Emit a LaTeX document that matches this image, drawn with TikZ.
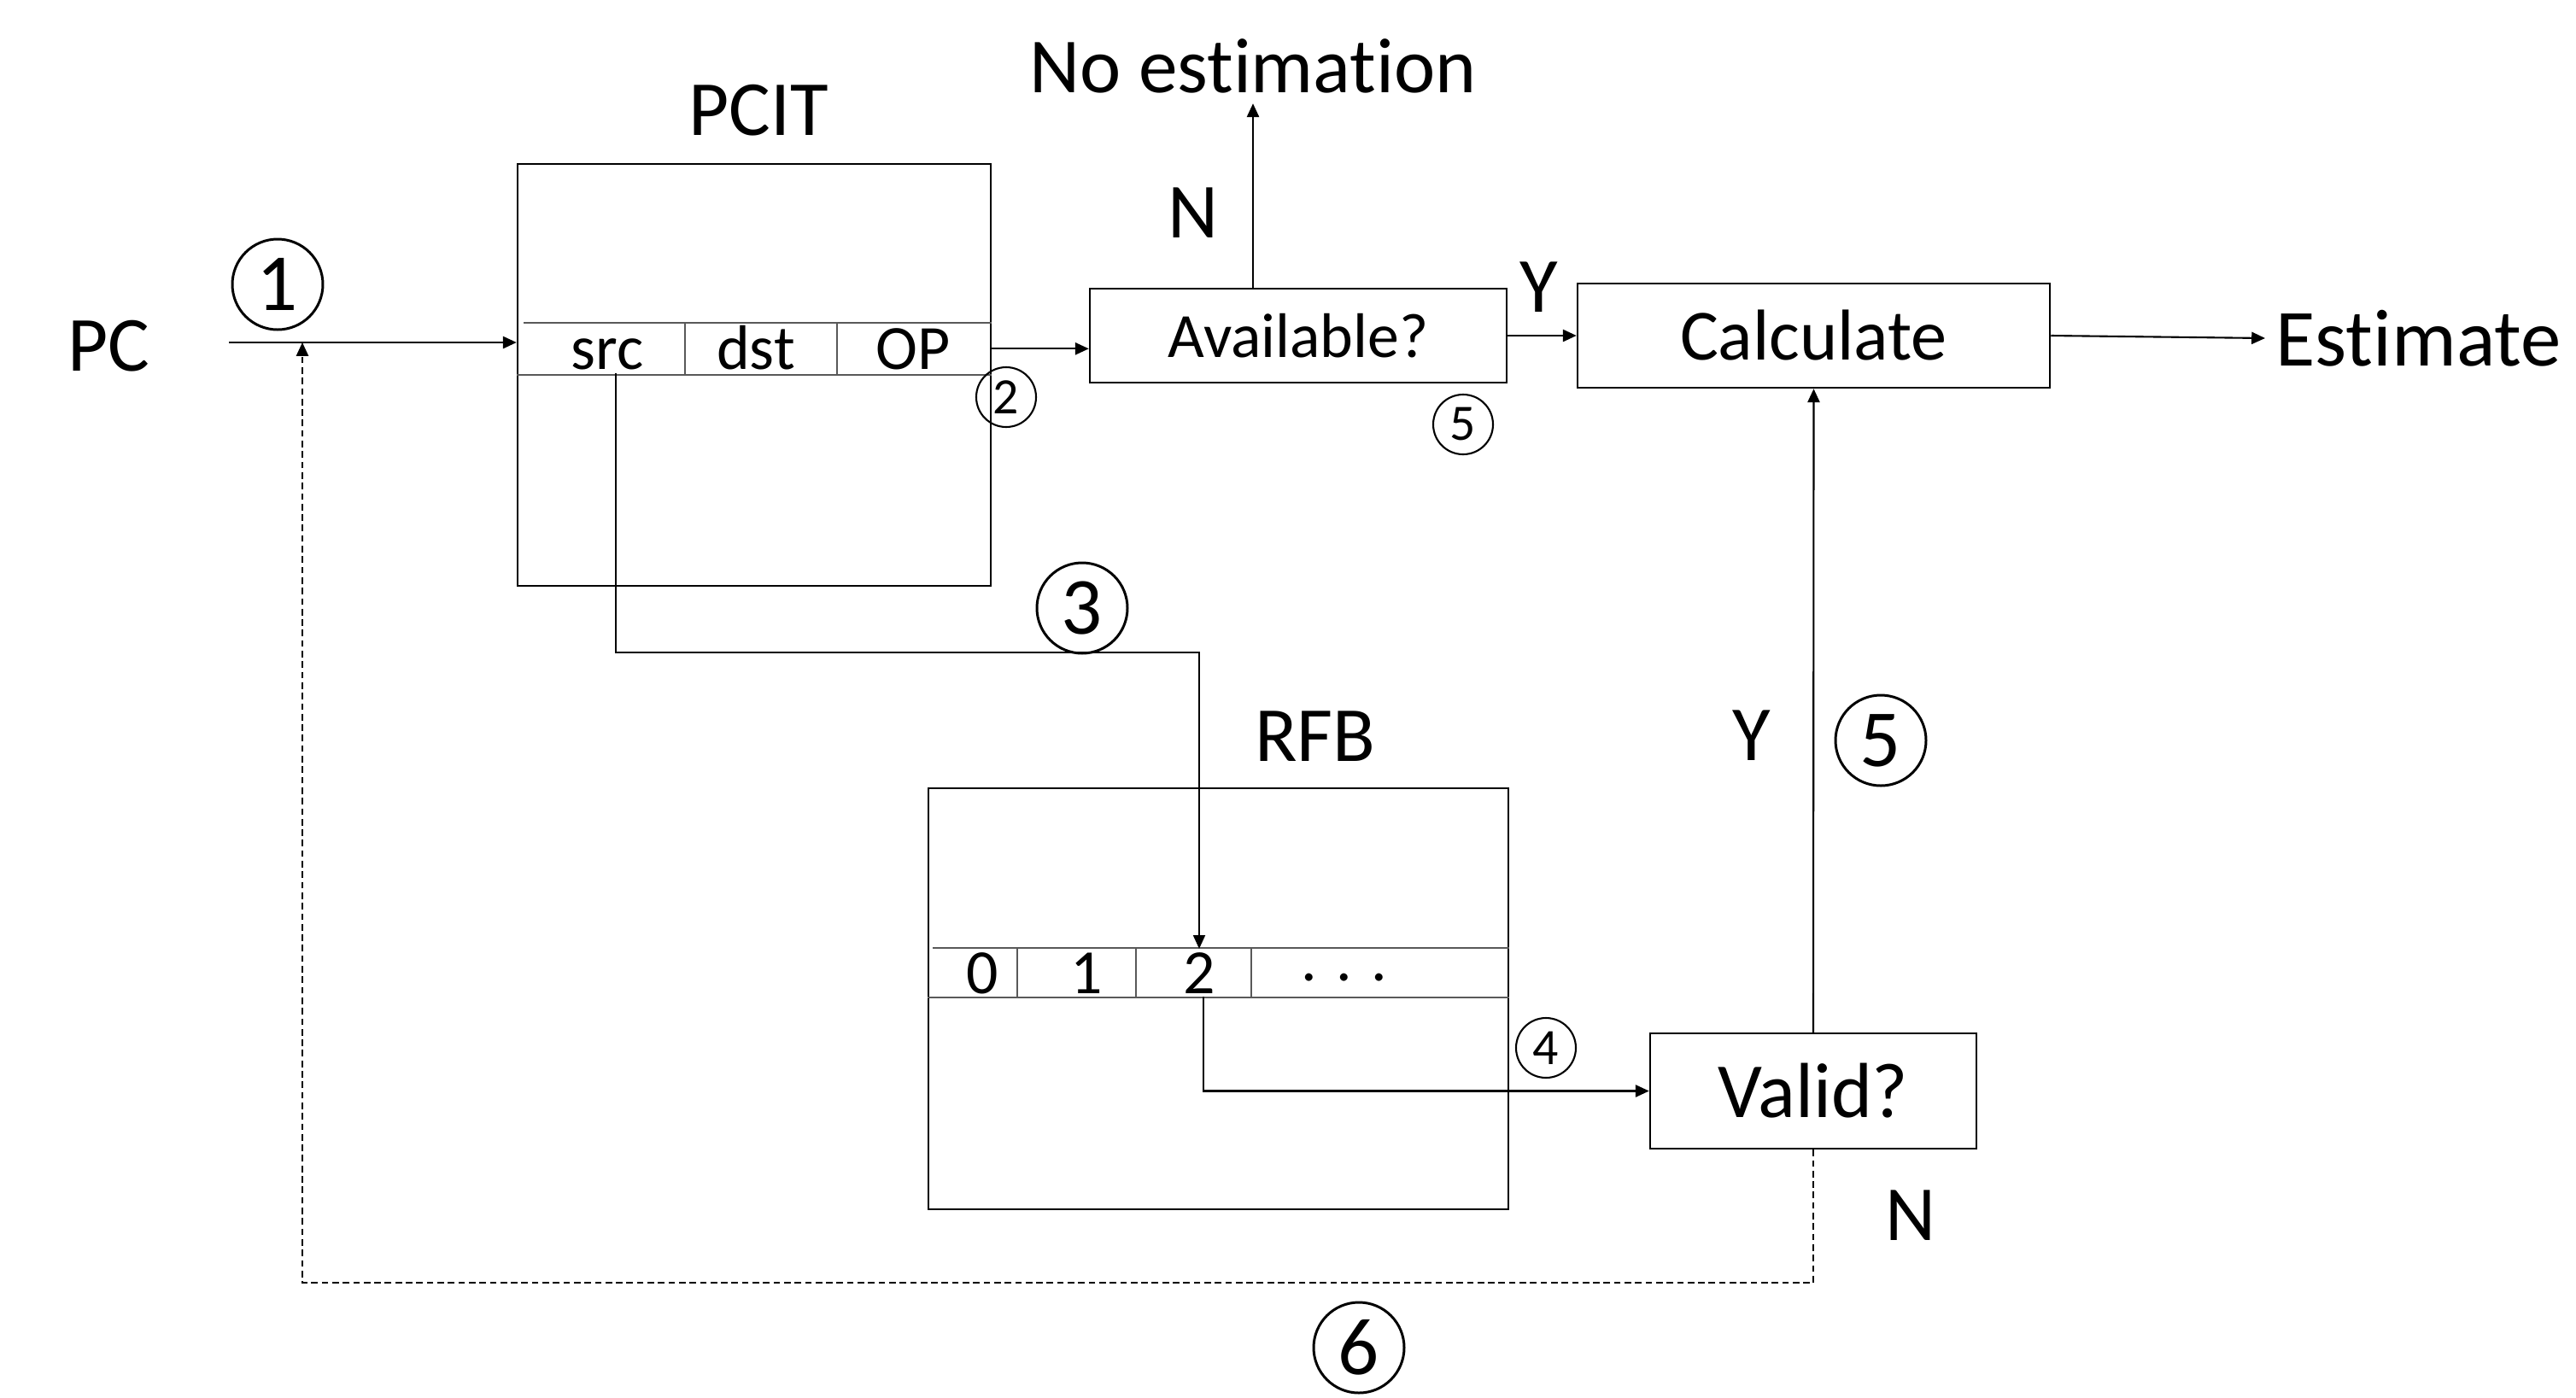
\documentclass[tikz,border=0pt]{standalone}
\usepackage{fontspec}
\setmainfont{Carlito}[Ligatures=NoCommon]
\usetikzlibrary{arrows.meta,positioning,calc}

\tikzset{
  box/.style={draw,line width=0.7pt,inner sep=0pt},
  lbl/.style={font=\fontsize{26}{30}\selectfont},
  cell/.style={anchor=base,inner sep=1pt,font=\fontsize{21}{25}\selectfont},
  rowline/.style={draw=black!65,line width=0.45pt},
  bignum/.style={draw,circle,line width=0.85pt,minimum size=1.06cm,inner sep=0pt,font=\fontsize{27}{30}\selectfont},
  smallnum/.style={draw,circle,line width=0.6pt,minimum size=0.7cm,inner sep=0pt,font=\fontsize{17}{20}\selectfont},
  conn/.style={line width=0.6pt,-{Triangle[length=4.5pt,width=4pt]}},
}

\begin{document}
\begin{tikzpicture}
\path[fill=white,use as bounding box] (0,0) rectangle (30.16,-16.36);

% tables
\node[box,minimum width=5.54cm,minimum height=4.94cm] (pcit) at (8.83,-4.39) {};
\node[lbl] (pcitlbl) at (8.88,-1.29) {PCIT};
\node[box,minimum width=6.79cm,minimum height=4.93cm] (rfb) at (14.265,-11.695) {};
\node[lbl] (rfblbl) at (15.40,-8.62) {RFB};

% entry rows
\draw[rowline] ([xshift=0.08cm,yshift=0.61cm]pcit.west) -- ([yshift=0.61cm]pcit.east);
\draw[rowline] (pcit.west) -- (pcit.east);
\foreach \x in {8.02,9.80}
  \draw[rowline] (\x,-3.78) -- (\x,-4.39);
\node[cell] (src) at (7.11,-4.32) {src};
\node[cell] (dst) at (8.85,-4.32) {dst};
\node[cell] (op) at (10.69,-4.32) {OP};

\draw[rowline] ([xshift=0.06cm,yshift=0.595cm]rfb.west) -- ([yshift=0.595cm]rfb.east);
\draw[rowline] ([yshift=0.015cm]rfb.west) -- ([yshift=0.015cm]rfb.east);
\foreach \x in {11.91,13.30,14.65}
  \draw[rowline] (\x,-11.10) -- (\x,-11.68);
\node[cell] (r0) at (11.50,-11.63) {0};
\node[cell] (r1) at (12.72,-11.63) {1};
\node[cell] (r2) at (14.04,-11.63) {2};
\node[cell] (rdots) at (15.74,-11.63) {\raisebox{0.4ex}{. . .}};

% decision boxes
\node[box,minimum width=4.88cm,minimum height=1.10cm,font=\fontsize{21}{25}\selectfont] (avail) at (15.20,-3.93) {Available?};
\node[box,minimum width=5.53cm,minimum height=1.22cm,font=\fontsize{24}{28}\selectfont] (calc) at (21.235,-3.93) {Calculate};
\node[box,minimum width=3.82cm,minimum height=1.35cm,font=\fontsize{26}{30}\selectfont] (valid) at (21.23,-12.775) {Valid?};

\node[lbl] (pc) at (1.27,-4.05) {PC};
\node[lbl,anchor=west,font=\fontsize{27}{31}\selectfont] (est) at (26.52,-3.96) {Estimate};
\node[lbl] (noest) at (14.67,-0.77) {No estimation};

\node[lbl] (nav) at (13.97,-2.49) {N};
\node[lbl] (yav) at (18.02,-3.36) {Y};
\node[lbl] (yva) at (20.51,-8.61) {Y};
\node[lbl] (nva) at (22.37,-14.23) {N};

% flow
\coordinate (pcin) at (2.68,-4.01);
\coordinate (turn) at (10,-7.64);
\coordinate (loop) at (3.54,-15.02);
\draw[conn] (pcin) -- (pcin -| pcit.west);
\draw[conn] (op -| pcit.east) -- (op -| avail.west);
\draw[conn] (noest |- avail.north) -- (noest.south);
\draw[conn] (avail) -- (calc);
\draw[conn] (calc.east) -- (est.west);
\draw[conn,line width=0.45pt] ([xshift=0.1cm]src.south) |- (turn) -| (r2.north);
\draw[conn] ([xshift=0.05cm]r2.south) |- (valid.west);
\draw[conn] (valid.north) -- (calc.south);
\draw[conn,dash pattern=on 2.2pt off 1.3pt] (valid.south) |- (loop) -- (loop |- pcin);

% steps
\node[bignum] (n1) at (3.25,-3.33) {1};
\node[smallnum] (n2) at (11.78,-4.65) {2};
\node[bignum] (n3) at (12.67,-7.12) {3};
\node[smallnum] (n4) at (18.10,-12.27) {4};
\node[smallnum] (n5a) at (17.13,-4.97) {5};
\node[bignum] (n5b) at (22.02,-8.67) {5};
\node[bignum] (n6) at (15.91,-15.78) {6};
\end{tikzpicture}
\end{document}
